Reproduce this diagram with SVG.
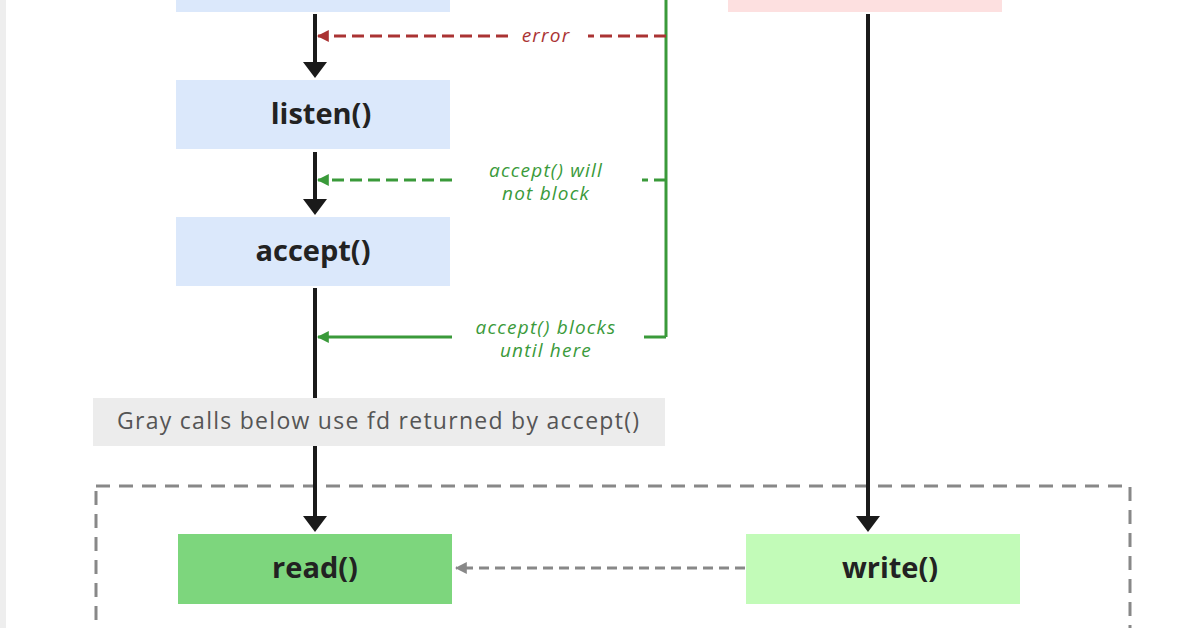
<svg xmlns="http://www.w3.org/2000/svg" width="1198" height="628" viewBox="0 0 1198 628">
<style>
.lbl{font-family:"Open Sans","DejaVu Sans",sans-serif;font-weight:bold;font-size:29px;fill:#222;text-anchor:middle}
.it{font-family:"Open Sans","DejaVu Sans",sans-serif;font-style:italic;font-size:19px;letter-spacing:1.2px;text-anchor:middle}
.blk{stroke:#1a1a1a;stroke-width:4;fill:none}
</style>
<defs>
<marker id="ar" viewBox="0 0 10 10" refX="9" refY="5" markerWidth="4" markerHeight="4" orient="auto"><path d="M0,0L10,5L0,10z" fill="#a33"/></marker>
<marker id="ag" viewBox="0 0 10 10" refX="9" refY="5" markerWidth="4" markerHeight="4" orient="auto"><path d="M0,0L10,5L0,10z" fill="#3a9a3a"/></marker>
<marker id="agr" viewBox="0 0 10 10" refX="9" refY="5" markerWidth="4" markerHeight="4" orient="auto"><path d="M0,0L10,5L0,10z" fill="#888"/></marker>
</defs>
<rect width="1198" height="628" fill="#fff"/>
<rect x="0" y="0" width="6" height="628" fill="#eee"/>
<rect x="96" y="486" width="1034" height="160" fill="none" stroke="#888" stroke-width="3" stroke-dasharray="14,9"/>
<g id="connectors">
<line class="blk" x1="315" y1="14" x2="315" y2="64"/>
<path d="M303,62L327,62L315,78z" fill="#1a1a1a"/>
<line class="blk" x1="315" y1="152" x2="315" y2="200"/>
<path d="M303,199L327,199L315,215z" fill="#1a1a1a"/>
<line class="blk" x1="315" y1="288" x2="315" y2="398"/>
<line class="blk" x1="315" y1="446" x2="315" y2="518"/>
<path d="M303,516L327,516L315,532z" fill="#1a1a1a"/>
<line class="blk" x1="868" y1="14" x2="868" y2="518"/>
<path d="M856,516L880,516L868,532z" fill="#1a1a1a"/>
<line x1="666" y1="0" x2="666" y2="337" stroke="#3a9a3a" stroke-width="3"/>
<line x1="666" y1="36" x2="588" y2="36" stroke="#a33" stroke-width="3" stroke-dasharray="12,6"/>
<line x1="508" y1="36" x2="318" y2="36" stroke="#a33" stroke-width="3" stroke-dasharray="12,6" marker-end="url(#ar)"/>
<line x1="666" y1="180" x2="642" y2="180" stroke="#3a9a3a" stroke-width="3" stroke-dasharray="12,6"/>
<line x1="452" y1="180" x2="318" y2="180" stroke="#3a9a3a" stroke-width="3" stroke-dasharray="12,6" marker-end="url(#ag)"/>
<line x1="666" y1="337" x2="644" y2="337" stroke="#3a9a3a" stroke-width="3"/>
<line x1="452" y1="337" x2="318" y2="337" stroke="#3a9a3a" stroke-width="3" marker-end="url(#ag)"/>
<line x1="745" y1="568" x2="456" y2="568" stroke="#888" stroke-width="3" stroke-dasharray="10,6" marker-end="url(#agr)"/>
<text class="it" x="546" y="42" fill="#a33">error</text>
<text class="it" x="546" y="177" fill="#3a9a3a">accept() will</text>
<text class="it" x="546" y="200" fill="#3a9a3a">not block</text>
<text class="it" x="546" y="334" fill="#3a9a3a">accept() blocks</text>
<text class="it" x="546" y="357" fill="#3a9a3a">until here</text>
</g>
<g id="top-left"><rect x="176" y="-60" width="274" height="72" fill="#dbe8fb"/></g>
<g id="top-right"><rect x="728" y="-60" width="274" height="72" fill="#fde0e0"/></g>
<g id="listen"><rect x="176" y="80" width="274" height="69" fill="#dbe8fb"/><text class="lbl" x="321" y="124">listen()</text></g>
<g id="accept"><rect x="176" y="217" width="274" height="69" fill="#dbe8fb"/><text class="lbl" x="313" y="261">accept()</text></g>
<g id="note"><rect x="93" y="398" width="572" height="48" fill="#ececec"/><text x="378" y="429" font-family="'Open Sans','DejaVu Sans',sans-serif" font-size="23" textLength="522" fill="#555" text-anchor="middle">Gray calls below use fd returned by accept()</text></g>
<g id="read"><rect x="178" y="534" width="274" height="70" fill="#7dd67d"/><text class="lbl" x="315" y="578">read()</text></g>
<g id="write"><rect x="746" y="534" width="274" height="70" fill="#c2fbb8"/><text class="lbl" x="890" y="578">write()</text></g>
</svg>
